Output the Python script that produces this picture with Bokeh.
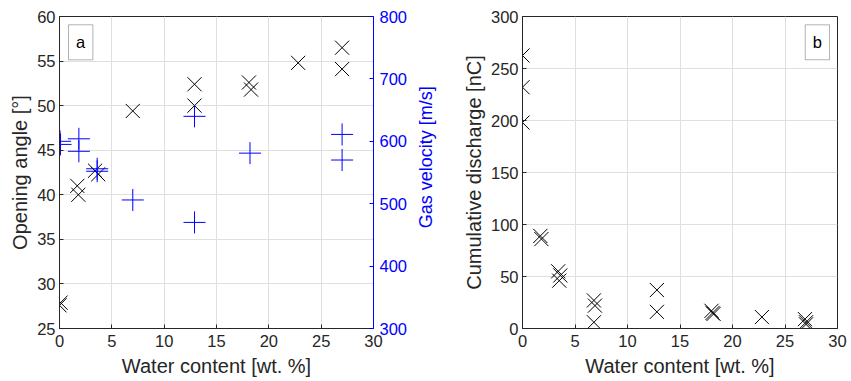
from math import pi
from bokeh.plotting import figure
from bokeh.layouts import row
from bokeh.models import Range1d, LinearAxis, Label, BoxAnnotation, FixedTicker
from bokeh.embed import file_html
from bokeh.resources import INLINE

# ---- data ----
water_angle = [0.0, 0.1, 1.7, 1.8, 3.4, 3.7, 7.0, 12.9, 12.9, 18.1, 18.3, 22.8, 27.0, 27.0]
opening_angle = [27.6, 27.9, 41.0, 40.0, 42.7, 42.3, 49.4, 52.4, 50.0, 52.6, 51.8, 54.8, 56.5, 54.1]

water_vel = [0.05, 0.1, 1.85, 1.85, 3.6, 3.6, 7.0, 12.9, 12.9, 18.2, 27.0, 27.0]
gas_velocity = [600, 595, 604, 584, 556, 552, 506, 640, 470, 581, 611, 570]

water_dis = [0.0, 0.0, 0.0, 1.7, 1.8, 3.4, 3.6, 3.5, 6.8, 6.9, 6.8, 12.8, 12.8, 18.0, 18.1, 18.2, 22.8, 26.9, 27.0, 27.0]
discharge = [262.5, 232, 198, 89, 86, 55, 51, 46, 27, 22, 6, 37, 16, 17, 15, 14, 11, 9, 6, 4]

x_ticks = [0, 5, 10, 15, 20, 25, 30]
angle_ticks = [25, 30, 35, 40, 45, 50, 55, 60]
vel_ticks = [300, 400, 500, 600, 700, 800]
dis_ticks = [0, 50, 100, 150, 200, 250, 300]

FONT = "Liberation Sans"
AX = "#262626"
BLUE = "#0000ff"
GRID = "#dfdfdf"
H = 381


def style_axis(ax, color=AX, label_size="20px"):
    ax.axis_line_color = color
    ax.major_tick_line_color = color
    ax.major_tick_in = 4
    ax.major_tick_out = 0
    ax.minor_tick_line_color = None
    ax.major_label_text_font = FONT
    ax.major_label_text_font_size = "16.5px"
    ax.major_label_text_color = color
    ax.axis_label_text_font = FONT
    ax.axis_label_text_font_size = label_size
    ax.axis_label_text_font_style = "normal"
    ax.axis_label_text_color = color


def make_fig(y_range, width, left, right):
    p = figure(width=width, height=H, x_range=Range1d(0, 30), y_range=y_range,
               output_backend="svg", toolbar_location=None,
               min_border_left=left, min_border_right=right,
               min_border_top=16, min_border_bottom=53)
    p.outline_line_color = AX
    p.outline_line_width = 1
    p.background_fill_color = "white"
    p.border_fill_color = "white"
    p.xgrid.grid_line_color = GRID
    p.ygrid.grid_line_color = GRID
    p.xaxis.ticker = FixedTicker(ticks=x_ticks)
    p.xgrid.ticker = FixedTicker(ticks=x_ticks)
    p.xaxis.axis_label = "Water content [wt. %]"
    p.xaxis.major_label_standoff = 6
    p.xaxis.axis_label_standoff = 5
    p.yaxis.major_label_standoff = 4
    p.yaxis.axis_label_standoff = 3
    for ax in p.xaxis + p.yaxis:
        style_axis(ax)
    return p


# ---- panel a ----
p1 = make_fig(Range1d(25, 60), 412, 59, 39)
p1.yaxis.ticker = FixedTicker(ticks=angle_ticks)
p1.ygrid.ticker = FixedTicker(ticks=angle_ticks)
p1.yaxis.axis_label = "Opening angle [°]"

p1.extra_y_ranges = {"vel": Range1d(300, 800)}
ax_r = LinearAxis(y_range_name="vel", ticker=FixedTicker(ticks=vel_ticks))
style_axis(ax_r, BLUE)
ax_r.major_label_standoff = 6
p1.add_layout(ax_r, "right")

p1.scatter(water_angle, opening_angle, marker="x", size=20,
           line_color="black", line_width=1)
p1.scatter(water_vel, gas_velocity, marker="cross", size=22,
           line_color=BLUE, line_width=1, y_range_name="vel")

p1.add_layout(BoxAnnotation(left=0.86, right=3.19, bottom=55.14, top=59.07,
                            fill_color="white", fill_alpha=1.0,
                            line_color="black", line_width=1))
p1.add_layout(Label(x=2.02, y=57.1, text="a", text_align="center",
                    text_baseline="middle", text_font=FONT,
                    text_font_size="16.5px", text_color="black"))

# ---- narrow strip holding the right-axis title (reads bottom to top) ----
strip = figure(width=26, height=H, x_range=Range1d(0, 1), y_range=Range1d(0, 1),
               output_backend="svg", toolbar_location=None,
               min_border_left=0, min_border_right=0,
               min_border_top=0, min_border_bottom=0)
strip.axis.visible = False
strip.grid.grid_line_color = None
strip.outline_line_color = None
strip.add_layout(Label(x=0.5, y=(H - 172) / H, text="Gas velocity [m/s]",
                       angle=pi / 2, text_align="center", text_baseline="middle",
                       text_font=FONT, text_font_size="18px", text_color=BLUE))

# ---- panel b ----
p2 = make_fig(Range1d(0, 300), 413, 84, 14)
p2.yaxis.ticker = FixedTicker(ticks=dis_ticks)
p2.ygrid.ticker = FixedTicker(ticks=dis_ticks)
p2.yaxis.axis_label = "Cumulative discharge [nC]"

p2.scatter(water_dis, discharge, marker="x", size=20,
           line_color="black", line_width=1)

p2.add_layout(BoxAnnotation(left=26.93, right=29.24, bottom=258.4, top=292.0,
                            fill_color="white", fill_alpha=1.0,
                            line_color="black", line_width=1))
p2.add_layout(Label(x=28.08, y=275.2, text="b", text_align="center",
                    text_baseline="middle", text_font=FONT,
                    text_font_size="16.5px", text_color="black"))

layout = row(p1, strip, p2)
open("out.html", "w").write(file_html(layout, INLINE))
